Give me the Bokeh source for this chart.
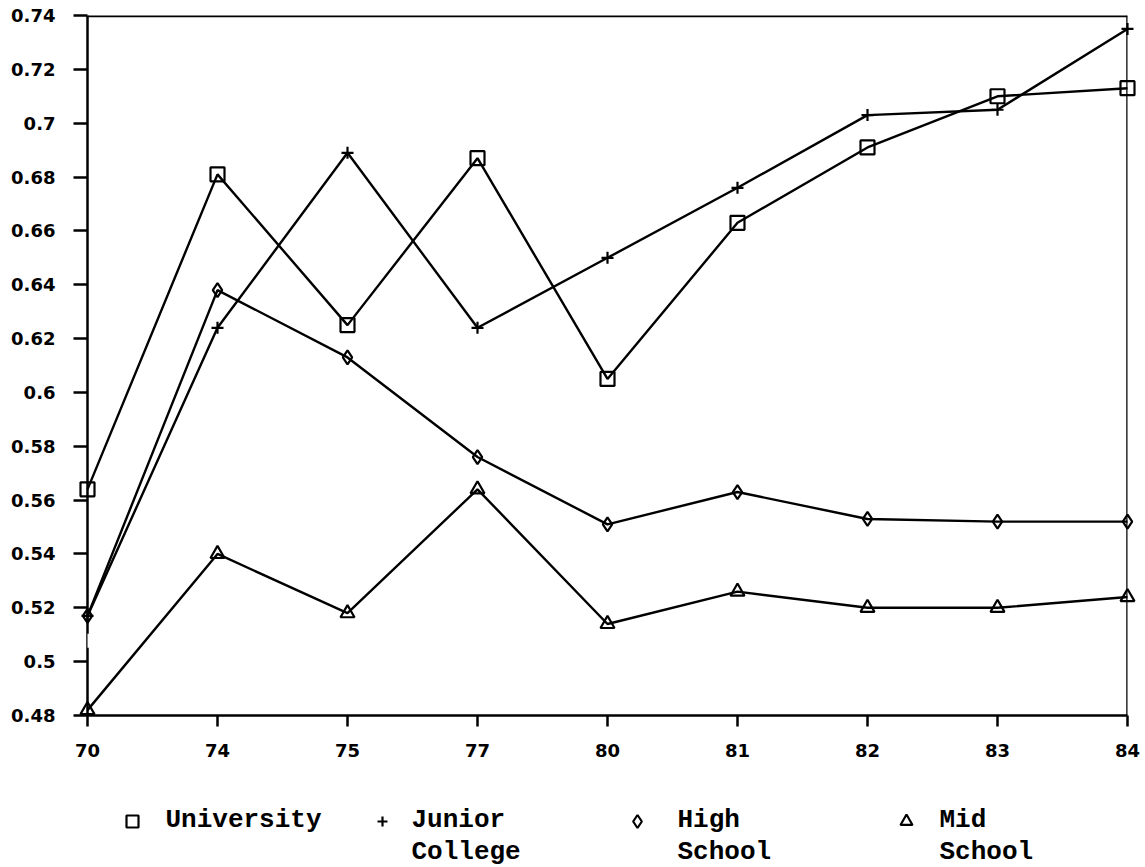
from bokeh.plotting import figure
from bokeh.layouts import column
from bokeh.models import Range1d, FixedTicker, Span, BoxAnnotation
from bokeh.core.properties import value
from bokeh.embed import file_html
from bokeh.resources import INLINE

# ---- data ----
years = ["70", "74", "75", "77", "80", "81", "82", "83", "84"]
university = [0.564, 0.681, 0.625, 0.687, 0.605, 0.663, 0.691, 0.710, 0.713]
junior_college = [0.517, 0.624, 0.689, 0.624, 0.650, 0.676, 0.703, 0.705, 0.735]
high_school = [0.517, 0.638, 0.613, 0.576, 0.551, 0.563, 0.553, 0.552, 0.552]
mid_school = [0.482, 0.540, 0.518, 0.564, 0.514, 0.526, 0.520, 0.520, 0.524]
y_ticks = [0.48, 0.5, 0.52, 0.54, 0.56, 0.58, 0.6, 0.62, 0.64, 0.66, 0.68, 0.7, 0.72, 0.74]

series_names = ["University", "Junior\nCollege", "High\nSchool", "Mid\nSchool"]
series_values = [university, junior_college, high_school, mid_school]
series_markers = ["square", "cross", "diamond", "triangle"]

xs = list(range(len(years)))

W = 1145
MAIN_H = 795
LEG_H = 867 - MAIN_H
FRAME_L, FRAME_R = 87, 1127

p = figure(width=W, height=MAIN_H,
           x_range=Range1d(xs[0], xs[-1]), y_range=Range1d(y_ticks[0], y_ticks[-1]),
           output_backend="svg", toolbar_location=None,
           min_border_left=FRAME_L, min_border_right=W - FRAME_R, min_border_top=15,
           min_border_bottom=MAIN_H - 715)
p.grid.visible = False
p.outline_line_color = None
p.background_fill_color = "white"
p.border_fill_color = "white"

for ax in (p.xaxis[0], p.yaxis[0]):
    ax.axis_line_width = 2.5
    ax.axis_line_color = "black"
    ax.major_tick_line_width = 2.5
    ax.major_tick_line_color = "black"
    ax.minor_tick_line_color = None
    ax.major_tick_in = 0
    ax.major_label_text_font = "DejaVu Sans"
    ax.major_label_text_font_style = "bold"
    ax.major_label_text_font_size = "18px"
    ax.major_label_text_color = "black"

p.yaxis.ticker = FixedTicker(ticks=y_ticks)
p.yaxis.major_label_overrides = {t: f"{t:g}" for t in y_ticks}
p.yaxis.major_tick_out = 14
p.yaxis.major_label_standoff = 18

p.xaxis.ticker = FixedTicker(ticks=xs)
p.xaxis.major_label_overrides = {i: y for i, y in enumerate(years)}
p.xaxis.major_tick_out = 11
p.xaxis.major_label_standoff = 17

# frame lines: top and right
top = Span(location=y_ticks[-1], dimension="width", line_color="black", line_width=3.5)
right = Span(location=xs[-1], dimension="height", line_color="black", line_width=2.5)
top.level = "overlay"
right.level = "overlay"
p.add_layout(top)
p.add_layout(right)
# break in the left axis between 0.5 and 0.52
gap = BoxAnnotation(left=-0.06, right=0.06, bottom=0.5052, top=0.5104,
                    fill_color="white", fill_alpha=1, line_color=None)
gap.level = "overlay"
p.add_layout(gap)

marker_sizes = [14, 12, 14, 14]
for vals, mk, sz in zip(series_values, series_markers, marker_sizes):
    ln = p.line(xs, vals, line_color="black", line_width=2.4)
    ln.level = "annotation"
    sc = p.scatter(xs, vals, marker=mk, size=sz, fill_color=None,
                   line_color="black", line_width=2.2)
    sc.level = "overlay"

# ---- legend panel below the chart (x in page pixels, y downward) ----
lg = figure(width=W, height=LEG_H, x_range=Range1d(FRAME_L, FRAME_R), y_range=Range1d(LEG_H, 0),
            output_backend="svg", toolbar_location=None,
            min_border_left=FRAME_L, min_border_right=W - FRAME_R, min_border_top=0, min_border_bottom=0)
lg.axis.visible = False
lg.grid.visible = False
lg.outline_line_color = None
lg.border_fill_color = "white"
lg.background_fill_color = "white"

leg_marker_x = [132, 382, 637, 906]
leg_marker_size = [12, 10, 13, 12]
leg_text_x = [165, 411, 677, 939]
row1_y, row2_y = 24, 56
leg_font = value("Liberation Mono")
for name, mk, mx, ms, tx in zip(series_names, series_markers, leg_marker_x, leg_marker_size, leg_text_x):
    r = lg.scatter([mx], [row1_y + 2], marker=mk, size=ms, fill_color=None,
                   line_color="black", line_width=2.2)
    r.level = "overlay"
    lines = name.split("\n")
    t = lg.text([tx] * len(lines), [row1_y, row2_y][:len(lines)], text=lines,
                text_font=leg_font, text_font_style="bold", text_font_size="26px",
                text_baseline="middle", text_align="left", text_color="black")
    t.level = "overlay"

open("out.html", "w").write(file_html(column(p, lg, spacing=0), INLINE))
